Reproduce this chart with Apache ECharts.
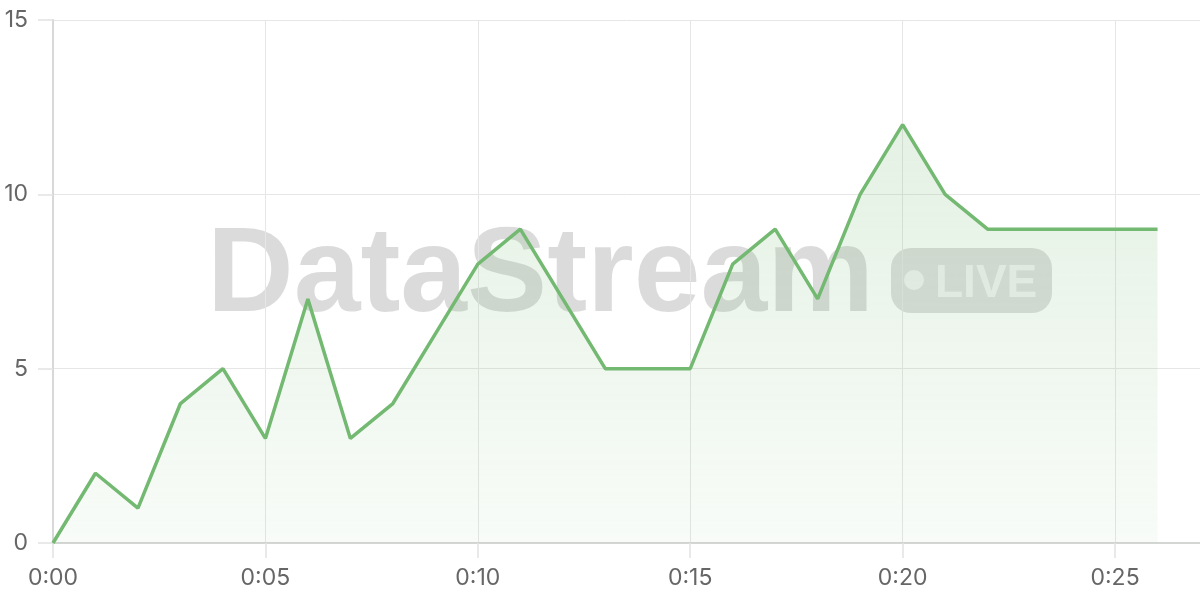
<!DOCTYPE html>
<html>
<head>
<meta charset="utf-8">
<script src="https://cdn.jsdelivr.net/npm/echarts@6/dist/echarts.min.js"></script>
<style>
  html, body { margin: 0; padding: 0; background: #fff; }
  #chart { width: 1200px; height: 600px; }
</style>
</head>
<body>
<div id="chart"></div>
<script>
// minutes since start and the value at each minute
const minutes = [0, 1, 2, 3, 4, 5, 6, 7, 8, 9, 10, 11, 12, 13, 14, 15, 16, 17, 18, 19, 20, 21, 22, 23, 24, 25, 26]
const values = [0, 2, 1, 4, 5, 3, 7, 3, 4, 6, 8, 9, 7, 5, 5, 5, 8, 9, 7, 10, 12, 10, 9, 9, 9, 9, 9]
const xTicks = [0, 5, 10, 15, 20, 25]
const yTicks = [0, 5, 10, 15]

const green = '#74b972'
const gridColor = '#e6e6e6'

const myChart = echarts.init(document.getElementById('chart'))

// m -> "0:05"
const fmtTime = (m) => Math.floor(m / 60) + ':' + String(m % 60).padStart(2, '0')

// tick marks that stick out past the axes, same tint as the grid
const tickLine = { color: '#e2e2e2', width: 1.5 }

const option = {
  animation: false,
  grid: { left: 53, right: 0, top: 20, bottom: 57, outerBoundsMode: 'none', containLabel: false },
  graphic: [
    {
      type: 'text',
      z: -10,
      left: 207,
      top: 218,
      style: {
        text: 'DataStream',
        font: 'bold 120px "Liberation Sans", Arial, sans-serif',
        fill: 'rgba(0,0,0,0.14)',
      },
    },
    {
      type: 'group',
      z: -10,
      left: 891,
      top: 248,
      children: [
        {
          type: 'rect',
          shape: { x: 0, y: 0, width: 161, height: 65, r: 20 },
          style: { fill: 'rgba(0,0,0,0.13)' },
        },
        {
          type: 'circle',
          shape: { cx: 23, cy: 32, r: 10 },
          style: { fill: 'rgba(255,255,255,0.6)' },
        },
        {
          type: 'text',
          x: 44,
          y: 13,
          style: {
            text: 'LIVE',
            font: 'bold 46px "Liberation Sans", Arial, sans-serif',
            fill: 'rgba(255,255,255,0.6)',
          },
        },
      ],
    },
  ],
  xAxis: {
    type: 'value',
    min: 0,
    max: 27,
    interval: 5,
    axisLine: { show: true, onZero: false, lineStyle: { color: '#d4d6d4', width: 2 } },
    axisTick: { show: true, length: 15, customValues: xTicks, lineStyle: tickLine },
    axisLabel: {
      color: '#666',
      fontSize: 23,
      fontFamily: 'Inter, "Noto Sans", sans-serif',
      margin: 24,
      customValues: xTicks,
      formatter: (v) => fmtTime(v),
    },
    splitLine: { show: true, lineStyle: { color: gridColor, width: 1 } },
  },
  yAxis: {
    type: 'value',
    min: yTicks[0],
    max: yTicks[yTicks.length - 1],
    interval: 5,
    axisLine: { show: true, onZero: false, lineStyle: { color: '#d8d8d8', width: 2 } },
    axisTick: { show: true, length: 15, customValues: yTicks, lineStyle: tickLine },
    axisLabel: {
      color: '#666',
      fontSize: 23,
      fontFamily: 'Inter, "Noto Sans", sans-serif',
      margin: 25,
    },
    splitLine: { show: true, lineStyle: { color: gridColor, width: 1 } },
  },
  series: [
    {
      type: 'line',
      data: minutes.map((m, i) => [m, values[i]]),
      showSymbol: false,
      lineStyle: { color: green, width: 3.5 },
      areaStyle: {
        color: new echarts.graphic.LinearGradient(0, 0, 0, 1, [
          { offset: 0, color: 'rgba(116,185,114,0.28)' },
          { offset: 1, color: 'rgba(116,185,114,0.07)' },
        ]),
        origin: 'start',
      },
    },
  ],
}

option && myChart.setOption(option)
</script>
</body>
</html>
